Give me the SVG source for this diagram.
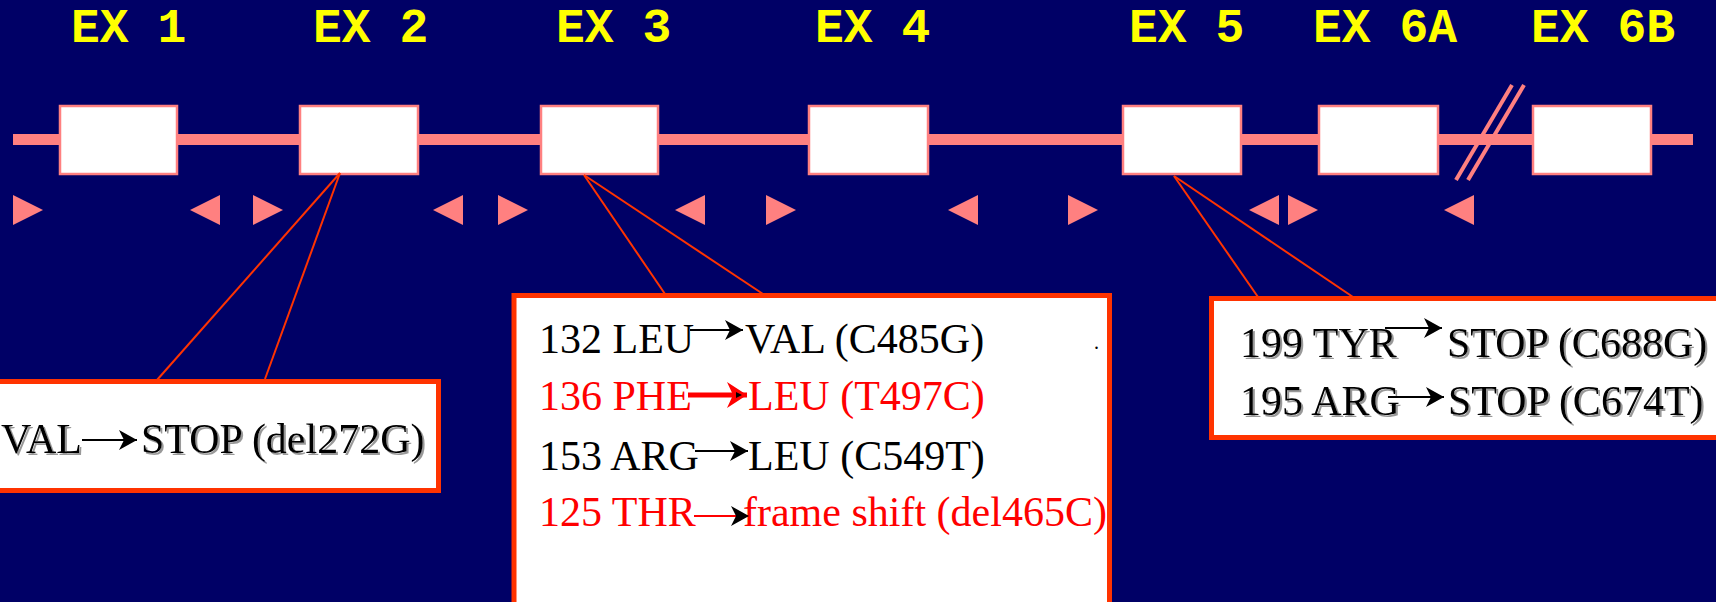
<svg xmlns="http://www.w3.org/2000/svg" xmlns:xlink="http://www.w3.org/1999/xlink" width="1716" height="602" viewBox="0 0 1716 602">
<style>
  .lbl{font-family:"Liberation Mono","Courier New",monospace;font-weight:bold;font-size:48px;fill:#FFFF00}
  .exon{fill:#FFFFFF;stroke:#FF8080;stroke-width:2.5}
  .bb{stroke:#FF8080;stroke-width:11;fill:none}
  .brk{stroke:#FF8080;stroke-width:4;fill:none}
  .prim{fill:#FF8080}
  .con{stroke:#FF3300;stroke-width:2;fill:none}
  .mbox{fill:#FFFFFF;stroke:#FF3300;stroke-width:5}
  .t{font-family:"Liberation Serif","Times New Roman",serif;font-size:42px;fill:#000000}
  .r{fill:#FF0000}
  .ar{stroke:#000000;stroke-width:2;fill:none}
  .arr{stroke:#FF0000;stroke-width:2;fill:none}
  .arrT{stroke:#FF0000;stroke-width:5;fill:none}
  .sh{filter:url(#shadow)}
</style>
<defs>
  <filter id="shadow" x="-10%" y="-30%" width="120%" height="160%">
    <feDropShadow dx="2" dy="2" stdDeviation="0.6" flood-color="#808080" flood-opacity="0.8"/>
  </filter>
  <marker id="ah" viewBox="0 0 18 20" markerWidth="18" markerHeight="20" refX="18" refY="10" orient="auto" markerUnits="userSpaceOnUse">
    <path d="M0,0 L18,10 L0,20 L5,10 z" fill="#000000"/>
  </marker>
  <marker id="ahR" viewBox="0 0 20 26" markerWidth="20" markerHeight="26" refX="20" refY="13" orient="auto" markerUnits="userSpaceOnUse">
    <path d="M0,0 L20,13 L0,26 L6,13 z" fill="#FF0000"/>
    <path d="M9,10 L15,13 L9,16 z" fill="#000000"/>
  </marker>
  <path id="tr" d="M0,0 L30,15 L0,30 z"/>
  <path id="tl" d="M30,0 L0,15 L30,30 z"/>
</defs>

<rect x="0" y="0" width="1716" height="602" fill="#000066"/>

<g id="backbone">
  <line class="bb" x1="13" y1="139.5" x2="1693" y2="139.5"/>
  <line class="brk" x1="1512" y1="85" x2="1456" y2="180"/>
  <line class="brk" x1="1524" y1="85" x2="1468" y2="180"/>
</g>

<g id="ex1"><text class="lbl" x="71" y="42">EX 1</text><rect class="exon" x="60" y="106" width="117" height="68"/></g>
<g id="ex2"><text class="lbl" x="313" y="42">EX 2</text><rect class="exon" x="300" y="106" width="118" height="68"/></g>
<g id="ex3"><text class="lbl" x="556" y="42">EX 3</text><rect class="exon" x="541" y="106" width="117" height="68"/></g>
<g id="ex4"><text class="lbl" x="815" y="42">EX 4</text><rect class="exon" x="809" y="106" width="119" height="68"/></g>
<g id="ex5"><text class="lbl" x="1129" y="42">EX 5</text><rect class="exon" x="1123" y="106" width="118" height="68"/></g>
<g id="ex6a"><text class="lbl" x="1313" y="42">EX 6A</text><rect class="exon" x="1319" y="106" width="119" height="68"/></g>
<g id="ex6b"><text class="lbl" x="1531" y="42">EX 6B</text><rect class="exon" x="1533" y="106" width="118" height="68"/></g>

<g id="primers" class="prim">
  <use xlink:href="#tr" x="13" y="195"/>
  <use xlink:href="#tl" x="190" y="195"/>
  <use xlink:href="#tr" x="253" y="195"/>
  <use xlink:href="#tl" x="433" y="195"/>
  <use xlink:href="#tr" x="498" y="195"/>
  <use xlink:href="#tl" x="675" y="195"/>
  <use xlink:href="#tr" x="766" y="195"/>
  <use xlink:href="#tl" x="948" y="195"/>
  <use xlink:href="#tr" x="1068" y="195"/>
  <use xlink:href="#tl" x="1249" y="195"/>
  <use xlink:href="#tr" x="1288" y="195"/>
  <use xlink:href="#tl" x="1444" y="195"/>
</g>

<g id="connectors">
  <line class="con" x1="340" y1="173" x2="157" y2="380"/>
  <line class="con" x1="340" y1="173" x2="265" y2="379"/>
  <line class="con" x1="584" y1="175" x2="665" y2="294"/>
  <line class="con" x1="584" y1="175" x2="763" y2="294"/>
  <line class="con" x1="1174" y1="176" x2="1258" y2="297"/>
  <line class="con" x1="1174" y1="176" x2="1353" y2="297"/>
</g>

<g id="mut-ex2">
  <rect class="mbox" x="-10" y="381.5" width="448.5" height="109"/>
  <g class="sh">
    <text class="t" x="82" y="453" text-anchor="end">VAL</text>
    <text class="t" x="141" y="453">STOP (del272G)</text>
  </g>
  <line class="ar" x1="82" y1="440" x2="137" y2="440" marker-end="url(#ah)"/>
</g>

<g id="mut-ex3">
  <rect class="mbox" x="514" y="295.5" width="595.5" height="330"/>
  <text class="t" x="539" y="353">132 LEU</text>
  <text class="t" x="745" y="353">VAL (C485G)</text>
  <line class="ar" x1="690" y1="330" x2="743" y2="330" marker-end="url(#ah)"/>
  <text class="t r" x="539" y="410">136 PHE</text>
  <text class="t r" x="748" y="410">LEU (T497C)</text>
  <line class="arrT" x1="688" y1="395" x2="747" y2="395" marker-end="url(#ahR)"/>
  <text class="t" x="539" y="470">153 ARG</text>
  <text class="t" x="748" y="470">LEU (C549T)</text>
  <line class="ar" x1="695" y1="451" x2="748" y2="451" marker-end="url(#ah)"/>
  <text class="t r" x="539" y="526">125 THR</text>
  <text class="t r" x="743" y="526">frame shift (del465C)</text>
  <line class="arr" x1="694" y1="516" x2="749" y2="516" marker-end="url(#ah)"/>
  <text class="t" x="1094" y="349" style="font-size:20px">.</text>
</g>

<g id="mut-ex5">
  <rect class="mbox" x="1211.5" y="298.5" width="520" height="139"/>
  <g class="sh">
    <text class="t" x="1240" y="357">199 TYR</text>
    <text class="t" x="1447" y="357">STOP (C688G)</text>
    <text class="t" x="1240" y="415">195 ARG</text>
    <text class="t" x="1448" y="415">STOP (C674T)</text>
  </g>
  <line class="ar" x1="1385" y1="328" x2="1442" y2="328" marker-end="url(#ah)"/>
  <line class="ar" x1="1388" y1="397" x2="1444" y2="397" marker-end="url(#ah)"/>
</g>
</svg>
